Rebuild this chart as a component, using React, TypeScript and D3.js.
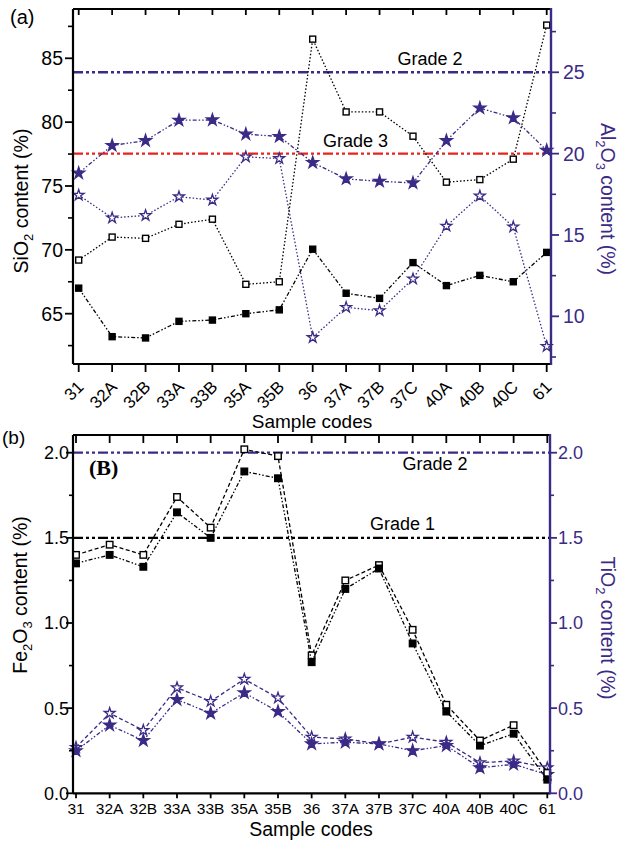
import React from 'react';
import * as d3 from 'd3';

// ---------- data ----------
const categories = ['31', '32A', '32B', '33A', '33B', '35A', '35B', '36', '37A', '37B', '37C', '40A', '40B', '40C', '61'];

// panel (a)
const sio2Open = [69.2, 71.0, 70.9, 72.0, 72.4, 67.3, 67.5, 86.5, 80.8, 80.8, 78.9, 75.3, 75.5, 77.1, 87.6];
const sio2Filled = [67.0, 63.2, 63.1, 64.4, 64.5, 65.0, 65.3, 70.05, 66.6, 66.2, 69.0, 67.2, 68.0, 67.5, 69.8];
const al2o3Filled = [18.8, 20.5, 20.8, 22.05, 22.07, 21.2, 21.05, 19.45, 18.45, 18.3, 18.2, 20.8, 22.8, 22.2, 20.2];
const al2o3Open = [17.45, 16.05, 16.2, 17.35, 17.15, 19.8, 19.7, 8.7, 10.55, 10.35, 12.3, 15.55, 17.4, 15.5, 8.15];
const aLeftTicks = [65, 70, 75, 80, 85];
const aLeftMinor = [62.5, 67.5, 72.5, 77.5, 82.5, 87.5];
const aRightTicks = [10, 15, 20, 25];
const aRightMinor = [7.5, 12.5, 17.5, 22.5, 27.5];
const aGrades = [
  { label: 'Grade 2', value: 25, kind: 'purple' },
  { label: 'Grade 3', value: 20, kind: 'red' },
];

// panel (b)
const fe2o3Open = [1.40, 1.46, 1.40, 1.74, 1.56, 2.02, 1.98, 0.81, 1.25, 1.34, 0.96, 0.52, 0.31, 0.40, 0.12];
const fe2o3Filled = [1.35, 1.40, 1.33, 1.65, 1.50, 1.89, 1.85, 0.77, 1.20, 1.32, 0.88, 0.48, 0.28, 0.35, 0.08];
const tio2Open = [0.27, 0.47, 0.37, 0.62, 0.54, 0.67, 0.56, 0.33, 0.32, 0.29, 0.33, 0.30, 0.18, 0.19, 0.15];
const tio2Filled = [0.25, 0.40, 0.31, 0.55, 0.47, 0.59, 0.48, 0.29, 0.30, 0.29, 0.25, 0.28, 0.15, 0.17, 0.11];
const bTicks = [0, 0.5, 1.0, 1.5, 2.0];
const bMinor = [0.25, 0.75, 1.25, 1.75];
const bGrades = [
  { label: 'Grade 2', value: 2.0, kind: 'purple' },
  { label: 'Grade 1', value: 1.5, kind: 'black' },
];

// ---------- styles ----------
const PURPLE = '#3b2a86';
const RED = '#e8231d';
const FONT = 'Arial, "Liberation Sans", Helvetica, sans-serif';
const SERIF = '"Times New Roman", "Liberation Serif", serif';

function Series({ values, x, y, color, dash, marker, sq = 6, width = 1.3 }: any) {
  const line = d3
    .line<number>()
    .x((_, i) => x(categories[i]))
    .y((d) => y(d));
  const star = d3.symbol().type(d3.symbolStar).size(marker === 'starFilled' ? 44 : 36)();
  return (
    <g>
      <path d={line(values) || ''} fill="none" stroke={color} strokeWidth={width} strokeDasharray={dash} />
      {values.map((v: number, i: number) => {
        const cx = x(categories[i]);
        const cy = y(v);
        if (marker === 'squareOpen' || marker === 'squareFilled') {
          return (
            <rect
              key={i}
              x={cx - sq / 2}
              y={cy - sq / 2}
              width={sq}
              height={sq}
              fill={marker === 'squareFilled' ? '#000' : '#fff'}
              stroke="#000"
              strokeWidth={1.4}
            />
          );
        }
        return (
          <path
            key={i}
            d={star || ''}
            transform={`translate(${cx},${cy})`}
            fill={marker === 'starFilled' ? color : '#fff'}
            stroke={color}
            strokeWidth={1.3}
          />
        );
      })}
    </g>
  );
}

function gradeColor(kind: string) {
  return kind === 'purple' ? PURPLE : kind === 'red' ? RED : '#000';
}

export default function App() {
  // ---- panel A geometry ----
  const A = { left: 73, right: 551, top: 9, bottom: 364 };
  const xA = d3.scalePoint<string>().domain(categories).range([78.7, 546.7]);
  const yAL = d3.scaleLinear().domain([61.06, 88.86]).range([A.bottom, A.top]);
  const yAR = d3.scaleLinear().domain([7.07, 28.89]).range([A.bottom, A.top]);

  // ---- panel B geometry ----
  const B = { left: 73, right: 550, top: 435, bottom: 793.3 };
  const xB = d3.scalePoint<string>().domain(categories).range([76, 547.3]);
  const yB = d3.scaleLinear().domain([0, 2.104]).range([B.bottom, B.top]);

  const dashDotDot = '4,2,1.5,2,1.5,2';
  const gradeDash = '10,3,3,3,3,3';

  return (
    <svg
      width={619}
      height={842}
      style={{ position: 'absolute', left: 0, top: 0, background: '#fff' }}
      fontFamily={FONT}
    >
      <rect x={0} y={0} width={619} height={842} fill="#fff" />

      {/* ================= PANEL A ================= */}
      <text x={10} y={24} fontSize={20} fill="#000">(a)</text>

      {aGrades.map((g) => (
        <line
          key={g.label}
          x1={A.left}
          x2={A.right}
          y1={yAR(g.value)}
          y2={yAR(g.value)}
          stroke={gradeColor(g.kind)}
          strokeWidth={2.4}
          strokeDasharray={gradeDash}
        />
      ))}
      <text x={430} y={65} fontSize={18} textAnchor="middle" fill="#000">Grade 2</text>
      <text x={355.5} y={146.5} fontSize={18} textAnchor="middle" fill="#000">Grade 3</text>

      <Series values={al2o3Filled} x={xA} y={yAR} color={PURPLE} dash={dashDotDot} marker="starFilled" />
      <Series values={al2o3Open} x={xA} y={yAR} color={PURPLE} dash="1.5,2" marker="starOpen" />
      <Series values={sio2Open} x={xA} y={yAL} color="#000" dash="1.5,2" marker="squareOpen" />
      <Series values={sio2Filled} x={xA} y={yAL} color="#000" dash={dashDotDot} marker="squareFilled" />

      {/* frame */}
      <line x1={A.left} x2={A.right} y1={A.top} y2={A.top} stroke="#000" strokeWidth={2.2} />
      <line x1={A.left} x2={A.right} y1={A.bottom} y2={A.bottom} stroke="#000" strokeWidth={2.2} />
      <line x1={A.left} x2={A.left} y1={A.top} y2={A.bottom} stroke="#000" strokeWidth={2.2} />
      <line x1={A.right} x2={A.right} y1={A.top - 1} y2={A.bottom + 1} stroke={PURPLE} strokeWidth={2.4} />

      {categories.map((c) => (
        <g key={'ax' + c}>
          <line x1={xA(c)} x2={xA(c)} y1={A.top} y2={A.top + 6} stroke="#000" strokeWidth={1.8} />
          <line x1={xA(c)} x2={xA(c)} y1={A.bottom} y2={A.bottom + 8} stroke="#000" strokeWidth={1.8} />
          <text
            transform={`translate(${(xA(c) as number) + 6},388) rotate(-45)`}
            textAnchor="end"
            fontSize={17}
            fill="#000"
          >
            {c}
          </text>
        </g>
      ))}
      <text x={312} y={428} fontSize={19} textAnchor="middle" fill="#000">Sample codes</text>

      {aLeftTicks.map((t) => (
        <g key={'al' + t}>
          <line x1={A.left - 8} x2={A.left} y1={yAL(t)} y2={yAL(t)} stroke="#000" strokeWidth={1.8} />
          <text x={A.left - 10} y={yAL(t)} dy="0.36em" textAnchor="end" fontSize={19.5} fill="#000">
            {t}
          </text>
        </g>
      ))}
      {aLeftMinor.map((t) => (
        <line key={'alm' + t} x1={A.left - 5} x2={A.left} y1={yAL(t)} y2={yAL(t)} stroke="#000" strokeWidth={1.6} />
      ))}
      {aRightTicks.map((t) => (
        <g key={'ar' + t}>
          <line x1={A.right} x2={A.right + 8} y1={yAR(t)} y2={yAR(t)} stroke={PURPLE} strokeWidth={1.8} />
          <text x={A.right + 12} y={yAR(t)} dy="0.36em" textAnchor="start" fontSize={19.5} fill={PURPLE}>
            {t}
          </text>
        </g>
      ))}
      {aRightMinor.map((t) => (
        <line key={'arm' + t} x1={A.right} x2={A.right + 5} y1={yAR(t)} y2={yAR(t)} stroke={PURPLE} strokeWidth={1.6} />
      ))}

      <text transform="translate(28,201) rotate(-90)" textAnchor="middle" fontSize={19.5} fill="#000">
        SiO<tspan dy={5} fontSize={13}>2</tspan>
        <tspan dy={-5}> content (%)</tspan>
      </text>
      <text transform="translate(601,199) rotate(90)" textAnchor="middle" fontSize={19.5} fill={PURPLE}>
        Al<tspan dy={5} fontSize={13}>2</tspan>
        <tspan dy={-5}>O</tspan>
        <tspan dy={5} fontSize={13}>3</tspan>
        <tspan dy={-5}> content (%)</tspan>
      </text>

      {/* ================= PANEL B ================= */}
      <text x={2} y={444} fontSize={19} fill="#000">(b)</text>
      <text x={89} y={475} fontSize={22} fontWeight="bold" fontFamily={SERIF} fill="#000">(B)</text>

      {bGrades.map((g) => (
        <line
          key={'b' + g.label}
          x1={B.left}
          x2={B.right}
          y1={yB(g.value)}
          y2={yB(g.value)}
          stroke={gradeColor(g.kind)}
          strokeWidth={2.2}
          strokeDasharray={gradeDash}
        />
      ))}
      <text x={435} y={470} fontSize={18} textAnchor="middle" fill="#000">Grade 2</text>
      <text x={402.5} y={530} fontSize={18} textAnchor="middle" fill="#000">Grade 1</text>

      <Series values={tio2Open} x={xB} y={yB} color={PURPLE} dash="4,2.5" marker="starOpen" />
      <Series values={tio2Filled} x={xB} y={yB} color={PURPLE} dash={dashDotDot} marker="starFilled" />
      <Series values={fe2o3Open} x={xB} y={yB} color="#000" dash="4,2.5" marker="squareOpen" sq={6.5} />
      <Series values={fe2o3Filled} x={xB} y={yB} color="#000" dash={dashDotDot} marker="squareFilled" sq={6.5} />

      <line x1={B.left} x2={B.right} y1={B.top} y2={B.top} stroke="#000" strokeWidth={2.2} />
      <line x1={B.left} x2={B.right} y1={B.bottom} y2={B.bottom} stroke="#000" strokeWidth={2.2} />
      <line x1={B.left} x2={B.left} y1={B.top} y2={B.bottom} stroke="#000" strokeWidth={2.2} />
      <line x1={B.right} x2={B.right} y1={B.top - 1} y2={B.bottom + 1} stroke={PURPLE} strokeWidth={2.4} />

      {categories.map((c) => (
        <g key={'bx' + c}>
          <line x1={xB(c)} x2={xB(c)} y1={B.top} y2={B.top + 8} stroke="#000" strokeWidth={1.8} />
          <line x1={xB(c)} x2={xB(c)} y1={B.bottom} y2={B.bottom + 5} stroke="#000" strokeWidth={1.8} />
          <text x={xB(c)} y={814} fontSize={15.5} textAnchor="middle" fill="#000">
            {c}
          </text>
        </g>
      ))}
      <text x={311} y={836} fontSize={19.5} textAnchor="middle" fill="#000">Sample codes</text>

      {bTicks.map((t) => (
        <g key={'bl' + t}>
          <line x1={B.left - 7} x2={B.left} y1={yB(t)} y2={yB(t)} stroke="#000" strokeWidth={1.8} />
          <text x={B.left - 4} y={yB(t)} dy="0.36em" textAnchor="end" fontSize={18} fill="#000">
            {t.toFixed(1)}
          </text>
          <line x1={B.right} x2={B.right + 7} y1={yB(t)} y2={yB(t)} stroke={PURPLE} strokeWidth={1.8} />
          <text x={B.right + 8} y={yB(t)} dy="0.36em" textAnchor="start" fontSize={18} fill={PURPLE}>
            {t.toFixed(1)}
          </text>
        </g>
      ))}
      {bMinor.map((t) => (
        <g key={'bm' + t}>
          <line x1={B.left - 4} x2={B.left} y1={yB(t)} y2={yB(t)} stroke="#000" strokeWidth={1.6} />
          <line x1={B.right} x2={B.right + 4} y1={yB(t)} y2={yB(t)} stroke={PURPLE} strokeWidth={1.6} />
        </g>
      ))}

      <text transform="translate(27,595) rotate(-90)" textAnchor="middle" fontSize={19.5} fill="#000">
        Fe<tspan dy={5} fontSize={13}>2</tspan>
        <tspan dy={-5}>O</tspan>
        <tspan dy={5} fontSize={13}>3</tspan>
        <tspan dy={-5}> content (%)</tspan>
      </text>
      <text transform="translate(601,628) rotate(90)" textAnchor="middle" fontSize={19.5} fill={PURPLE}>
        TiO<tspan dy={5} fontSize={13}>2</tspan>
        <tspan dy={-5}> content (%)</tspan>
      </text>
    </svg>
  );
}
